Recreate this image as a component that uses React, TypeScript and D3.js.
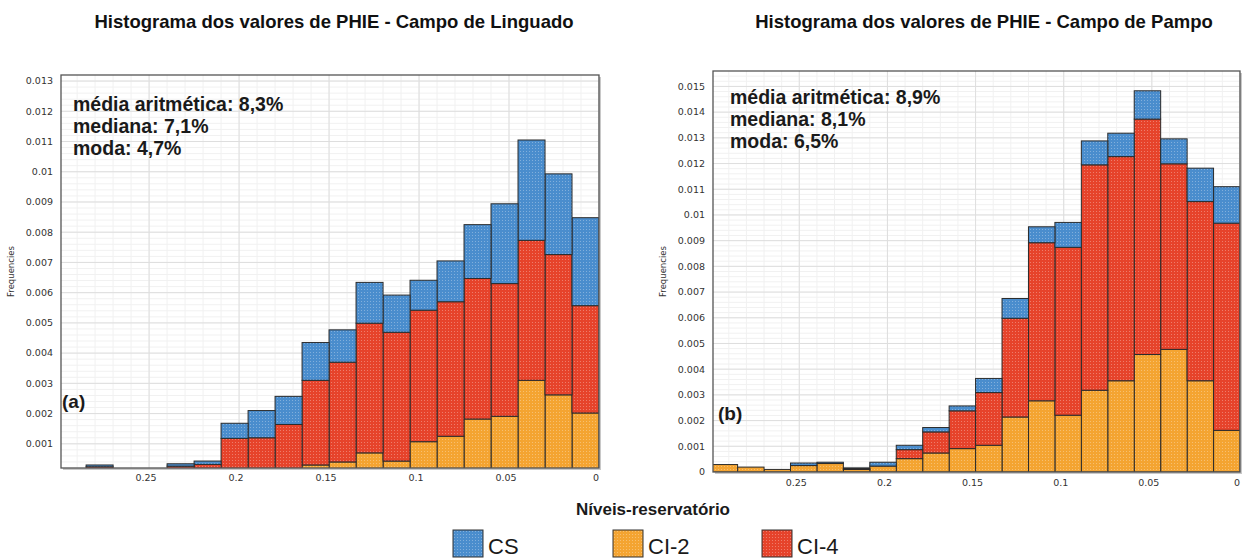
import React from "react";
import * as d3 from "d3";

// lower edge of each PHIE bin (bin width 0.015)
const binStarts = [0, 0.015, 0.03, 0.045, 0.06, 0.075, 0.09, 0.105, 0.12, 0.135, 0.15, 0.165, 0.18, 0.195, 0.21, 0.225, 0.24, 0.255, 0.27, 0.285];
const binWidth = 0.015;

// Campo de Linguado
const linguadoCI2 = [0.00202, 0.00262, 0.0031, 0.00191, 0.00182, 0.00125, 0.00107, 0.00043, 0.0007, 0.0004, 0.0003, 0, 0, 0, 0, 0, 0, 0, 0, 0];
const linguadoCI4 = [0.00355, 0.00464, 0.00463, 0.00439, 0.00465, 0.00445, 0.00435, 0.00426, 0.00429, 0.0033, 0.0028, 0.00164, 0.0012, 0.00118, 0.00032, 0.00026, 0, 0, 0.00024, 0];
const linguadoCS = [0.00291, 0.00267, 0.00332, 0.00264, 0.00178, 0.00135, 0.00099, 0.00123, 0.00135, 0.00107, 0.00125, 0.00093, 0.0009, 0.0005, 0.00011, 0.00008, 0, 0, 0.00006, 0];

// Campo de Pampo
const pampoCI2 = [0.00162, 0.00355, 0.00477, 0.00457, 0.00355, 0.00318, 0.00221, 0.00277, 0.00214, 0.00104, 0.00091, 0.00074, 0.00052, 0.00023, 0.0001, 0.00033, 0.00025, 0.0001, 0.00019, 0.00029];
const pampoCI4 = [0.00806, 0.00697, 0.00722, 0.00916, 0.00872, 0.00877, 0.00653, 0.00615, 0.00384, 0.00205, 0.00147, 0.00082, 0.00035, 0, 0.00002, 0, 0, 0, 0, 0];
const pampoCS = [0.00142, 0.0013, 0.00097, 0.0011, 0.00091, 0.00093, 0.00097, 0.00062, 0.00077, 0.00055, 0.00019, 0.00017, 0.00017, 0.00015, 0.00004, 0.00005, 0.0001, 0, 0, 0];

const xTicks = [0.25, 0.2, 0.15, 0.1, 0.05, 0];
const yTicksLinguado = [0.001, 0.002, 0.003, 0.004, 0.005, 0.006, 0.007, 0.008, 0.009, 0.01, 0.011, 0.012, 0.013];
const yTicksPampo = [0, 0.001, 0.002, 0.003, 0.004, 0.005, 0.006, 0.007, 0.008, 0.009, 0.01, 0.011, 0.012, 0.013, 0.014, 0.015];

const levels = [
  { key: "CS", label: "CS", color: "#4a8dcd" },
  { key: "CI2", label: "CI-2", color: "#f4a431" },
  { key: "CI4", label: "CI-4", color: "#e6432b" },
];
const stackOrder = ["CI2", "CI4", "CS"];

const Panel = ({ id, box, yDomain, yTicks, ci2, ci4, cs, title, titleX, stats, statsPos, tag, tagPos, xLabelY }) => {
  const x = d3.scaleLinear().domain([0.3, 0]).range([box.x1 - (box.x2 - box.x1) * 0.0035, box.x2]);
  const y = d3.scaleLinear().domain(yDomain).range([box.y2, box.y1]);

  const rows = binStarts.map((b, i) => ({ b, CI2: ci2[i], CI4: ci4[i], CS: cs[i] }));
  const series = d3.stack().keys(stackOrder)(rows);

  const minorX = d3.range(0, 0.3001, 0.01);
  const minorY = d3.range(0, yDomain[1], 0.0002);

  return (
    <g>
      <text x={titleX} y={28} textAnchor="middle" fontFamily="Liberation Sans, Arial, sans-serif" fontWeight="bold" fontSize={18.5} fill="#111">
        {title}
      </text>
      <clipPath id={`clip-${id}`}>
        <rect x={box.x1} y={box.y1} width={box.x2 - box.x1} height={box.y2 - box.y1} />
      </clipPath>
      <rect x={box.x1 + 2} y={box.y1 + 2} width={box.x2 - box.x1} height={box.y2 - box.y1} fill="#c8c8c8" />
      <rect x={box.x1} y={box.y1} width={box.x2 - box.x1} height={box.y2 - box.y1} fill="#fff" />
      <g clipPath={`url(#clip-${id})`}>
        {minorY.map((v, i) => (
          <line key={`my${i}`} x1={box.x1} x2={box.x2} y1={y(v)} y2={y(v)} stroke="#f1f1f1" />
        ))}
        {minorX.map((v, i) => (
          <line key={`mx${i}`} x1={x(v)} x2={x(v)} y1={box.y1} y2={box.y2} stroke="#f1f1f1" />
        ))}
        {yTicks.map((v) => (
          <line key={`gy${v}`} x1={box.x1} x2={box.x2} y1={y(v)} y2={y(v)} stroke="#dedede" />
        ))}
        {xTicks.map((v) => (
          <line key={`gx${v}`} x1={x(v)} x2={x(v)} y1={box.y1} y2={box.y2} stroke="#dedede" />
        ))}
        {series.map((s) =>
          s.map((d, i) =>
            d[1] - d[0] > 0 ? (
              <rect
                key={`${s.key}${i}`}
                x={x(d.data.b + binWidth)}
                y={y(d[1])}
                width={x(d.data.b) - x(d.data.b + binWidth)}
                height={y(d[0]) - y(d[1])}
                fill={`url(#dots-${s.key})`}
                stroke="#2b2b2b"
                strokeWidth={1}
              />
            ) : null,
          ),
        )}
      </g>
      <rect x={box.x1} y={box.y1} width={box.x2 - box.x1} height={box.y2 - box.y1} fill="none" stroke="#555" strokeWidth={1.3} />
      {yTicks.map((v) => (
        <text key={`ty${v}`} x={box.x1 - 8} y={y(v)} dy="0.35em" textAnchor="end" fontFamily="DejaVu Sans, Verdana, sans-serif" fontSize={9.5} fill="#333">
          {String(+v.toFixed(3))}
        </text>
      ))}
      {xTicks.map((v) => (
        <text key={`tx${v}`} x={x(v) - 3} y={xLabelY} textAnchor="middle" fontFamily="DejaVu Sans, Verdana, sans-serif" fontSize={9.5} fill="#333">
          {String(v)}
        </text>
      ))}
      <text
        transform={`translate(${box.x1 - 47},${(box.y1 + box.y2) / 2}) rotate(-90)`}
        textAnchor="middle"
        fontFamily="DejaVu Sans, Verdana, sans-serif"
        fontSize={8.5}
        fill="#333"
      >
        Frequencies
      </text>
      {stats.map((s, i) => (
        <text key={s} x={statsPos[0]} y={statsPos[1] + i * 21.8} fontFamily="Liberation Sans, Arial, sans-serif" fontWeight="bold" fontSize={19.5} fill="#1a1a1a">
          {s}
        </text>
      ))}
      <text x={tagPos[0]} y={tagPos[1]} fontFamily="Liberation Sans, Arial, sans-serif" fontWeight="bold" fontSize={19} fill="#1a1a1a">
        {tag}
      </text>
    </g>
  );
};

const App = () => {
  return (
    <svg width={1244} height={558} style={{ position: "absolute", left: 0, top: 0, background: "#fff" }}>
      <defs>
        {levels.map((l) => (
          <pattern key={l.key} id={`dots-${l.key}`} width={3} height={3} patternUnits="userSpaceOnUse">
            <rect width={3} height={3} fill={l.color} />
            <rect x={1} y={1} width={1} height={1} fill="#fff" opacity={0.3} />
          </pattern>
        ))}
      </defs>
      <rect width={1244} height={558} fill="#fff" />
      <Panel
        id="a"
        box={{ x1: 61, x2: 599, y1: 75, y2: 468 }}
        yDomain={[0.0002, 0.0132]}
        yTicks={yTicksLinguado}
        ci2={linguadoCI2}
        ci4={linguadoCI4}
        cs={linguadoCS}
        title="Histograma dos valores de PHIE - Campo de Linguado"
        titleX={334}
        stats={["média aritmética: 8,3%", "mediana: 7,1%", "moda: 4,7%"]}
        statsPos={[73, 111]}
        tag="(a)"
        tagPos={[62, 408]}
        xLabelY={481}
      />
      <Panel
        id="b"
        box={{ x1: 713, x2: 1240, y1: 71, y2: 472 }}
        yDomain={[0, 0.0156]}
        yTicks={yTicksPampo}
        ci2={pampoCI2}
        ci4={pampoCI4}
        cs={pampoCS}
        title="Histograma dos valores de PHIE - Campo de Pampo"
        titleX={984}
        stats={["média aritmética: 8,9%", "mediana: 8,1%", "moda: 6,5%"]}
        statsPos={[730, 104]}
        tag="(b)"
        tagPos={[718, 420]}
        xLabelY={486}
      />
      <text x={653} y={515} textAnchor="middle" fontFamily="Liberation Sans, Arial, sans-serif" fontWeight="bold" fontSize={17} fill="#1a1a1a">
        Níveis-reservatório
      </text>
      {levels.map((l, i) => (
        <g key={l.key} transform={`translate(${[453, 613, 762][i]},530)`}>
          <rect width={30} height={27} fill={`url(#dots-${l.key})`} stroke="#333" strokeWidth={1} />
          <text x={35} y={24} fontFamily="Liberation Sans, Arial, sans-serif" fontSize={22} fill="#1a1a1a">
            {l.label}
          </text>
        </g>
      ))}
    </svg>
  );
};

export default App;
